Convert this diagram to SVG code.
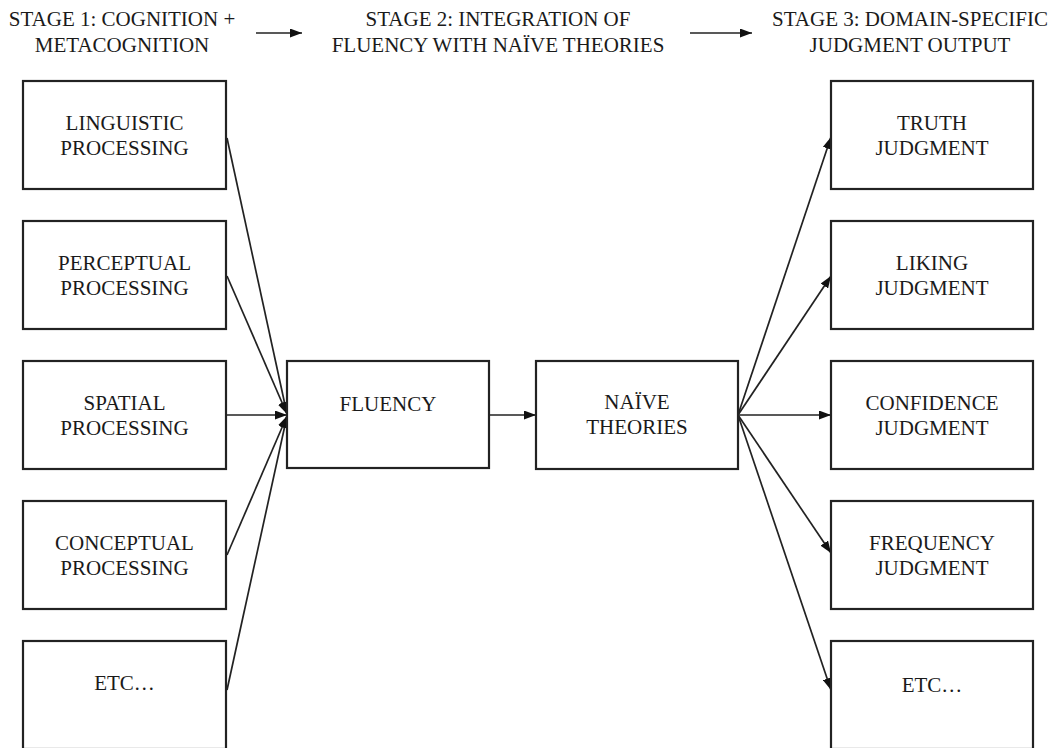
<svg xmlns="http://www.w3.org/2000/svg" width="1051" height="748" viewBox="0 0 1051 748">
<style>
.box{fill:#fff;stroke:#222;stroke-width:2.2}
.t{font-family:"Liberation Serif","Times New Roman",serif;font-size:21px;fill:#1a1a1a;text-anchor:middle}
.c{stroke:#222;stroke-width:1.7;fill:none}
</style>
<defs>
<marker id="ah" viewBox="0 0 12 9" refX="12" refY="4.5" markerWidth="12" markerHeight="9" markerUnits="userSpaceOnUse" orient="auto">
<path d="M0,0 L12,4.5 L0,9 Z" fill="#111"/>
</marker>
</defs>
<rect width="1051" height="748" fill="#fff"/>
<g id="headers">
<text class="t" x="122" y="26">STAGE 1: COGNITION +</text>
<text class="t" x="122" y="52">METACOGNITION</text>
<text class="t" x="498" y="26">STAGE 2: INTEGRATION OF</text>
<text class="t" x="498" y="52">FLUENCY WITH NAÏVE THEORIES</text>
<text class="t" x="910" y="26">STAGE 3: DOMAIN-SPECIFIC</text>
<text class="t" x="910" y="52">JUDGMENT OUTPUT</text>
</g>
<g id="connectors">
<line class="c" x1="256" y1="33" x2="302" y2="33" marker-end="url(#ah)"/>
<line class="c" x1="690" y1="33" x2="752" y2="33" marker-end="url(#ah)"/>
<line class="c" x1="227" y1="138" x2="287" y2="414" marker-end="url(#ah)"/>
<line class="c" x1="227" y1="276" x2="287" y2="414" marker-end="url(#ah)"/>
<line class="c" x1="227" y1="415" x2="287" y2="415" marker-end="url(#ah)"/>
<line class="c" x1="227" y1="555" x2="287" y2="416" marker-end="url(#ah)"/>
<line class="c" x1="227" y1="690" x2="287" y2="416" marker-end="url(#ah)"/>
<line class="c" x1="489" y1="415" x2="536" y2="415" marker-end="url(#ah)"/>
<line class="c" x1="738" y1="415" x2="831" y2="137" marker-end="url(#ah)"/>
<line class="c" x1="738" y1="415" x2="831" y2="276" marker-end="url(#ah)"/>
<line class="c" x1="738" y1="415" x2="831" y2="415" marker-end="url(#ah)"/>
<line class="c" x1="738" y1="415" x2="831" y2="553" marker-end="url(#ah)"/>
<line class="c" x1="738" y1="415" x2="831" y2="690" marker-end="url(#ah)"/>
</g>
<g id="linguistic"><rect class="box" x="23" y="81" width="203" height="108"/><text class="t" x="124.5" y="130">LINGUISTIC</text><text class="t" x="124.5" y="155">PROCESSING</text></g>
<g id="perceptual"><rect class="box" x="23" y="221" width="203" height="108"/><text class="t" x="124.5" y="270">PERCEPTUAL</text><text class="t" x="124.5" y="295">PROCESSING</text></g>
<g id="spatial"><rect class="box" x="23" y="361" width="203" height="108"/><text class="t" x="124.5" y="410">SPATIAL</text><text class="t" x="124.5" y="435">PROCESSING</text></g>
<g id="conceptual"><rect class="box" x="23" y="501" width="203" height="108"/><text class="t" x="124.5" y="550">CONCEPTUAL</text><text class="t" x="124.5" y="575">PROCESSING</text></g>
<g id="etc-left"><rect class="box" x="23" y="641" width="203" height="108"/><text class="t" x="124.5" y="690">ETC…</text></g>
<g id="fluency"><rect class="box" x="287" y="361" width="202" height="107"/><text class="t" x="388" y="411">FLUENCY</text></g>
<g id="naive"><rect class="box" x="536" y="361" width="202" height="108"/><text class="t" x="637" y="409">NAÏVE</text><text class="t" x="637" y="434">THEORIES</text></g>
<g id="truth"><rect class="box" x="831" y="81" width="202" height="108"/><text class="t" x="932" y="130">TRUTH</text><text class="t" x="932" y="155">JUDGMENT</text></g>
<g id="liking"><rect class="box" x="831" y="221" width="202" height="108"/><text class="t" x="932" y="270">LIKING</text><text class="t" x="932" y="295">JUDGMENT</text></g>
<g id="confidence"><rect class="box" x="831" y="361" width="202" height="108"/><text class="t" x="932" y="410">CONFIDENCE</text><text class="t" x="932" y="435">JUDGMENT</text></g>
<g id="frequency"><rect class="box" x="831" y="501" width="202" height="108"/><text class="t" x="932" y="550">FREQUENCY</text><text class="t" x="932" y="575">JUDGMENT</text></g>
<g id="etc-right"><rect class="box" x="831" y="641" width="202" height="108"/><text class="t" x="932" y="692">ETC…</text></g>
</svg>
